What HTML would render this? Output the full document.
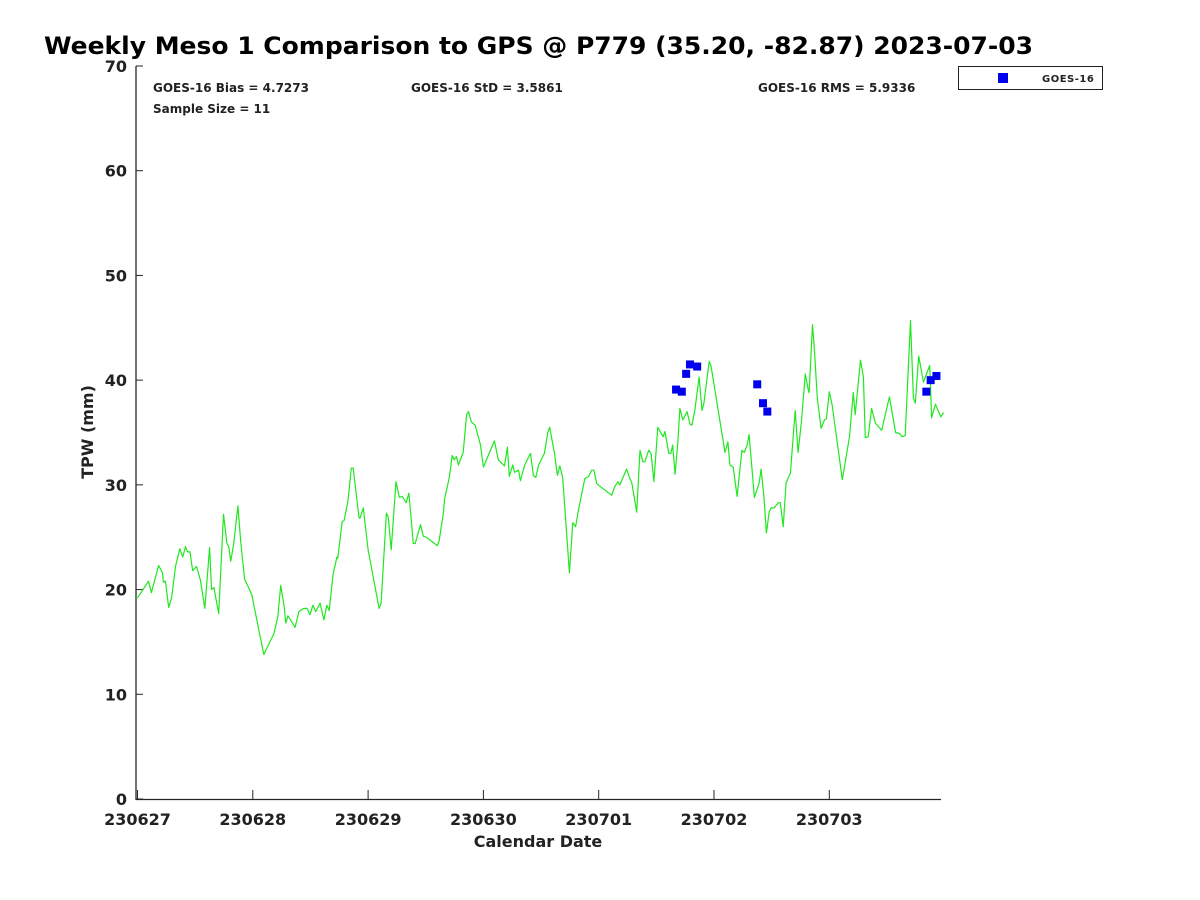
<!DOCTYPE html>
<html><head><meta charset="utf-8"><style>
html,body{margin:0;padding:0;background:#fff;}
svg{display:block;font-family:"DejaVu Sans","Liberation Sans",sans-serif;}
</style></head><body>
<svg id="chart" width="1200" height="900" viewBox="0 0 1200 900">
<rect width="1200" height="900" fill="#fff"/>
<text x="44" y="54" font-size="24" font-weight="bold" fill="#000" textLength="989" lengthAdjust="spacingAndGlyphs">Weekly Meso 1 Comparison to GPS @ P779 (35.20, -82.87) 2023-07-03</text>
<g id="axes"></g>
<g id="marks"></g>
<text x="153" y="92" font-size="12" font-weight="bold" fill="#222">GOES-16 Bias = 4.7273</text>
<text x="411" y="92" font-size="12" font-weight="bold" fill="#222">GOES-16 StD = 3.5861</text>
<text x="758" y="92" font-size="12" font-weight="bold" fill="#222">GOES-16 RMS = 5.9336</text>
<text x="153" y="113" font-size="12" font-weight="bold" fill="#222">Sample Size = 11</text>
<g>
<rect x="958.5" y="66.5" width="144" height="23" fill="#fff" stroke="#222" stroke-width="1"/>
<rect x="998" y="73" width="10" height="10" fill="#0000ee"/>
<text x="1042" y="82" font-size="10" font-weight="bold" fill="#222" letter-spacing="0.5">GOES-16</text>
</g>
<text x="538" y="847" font-size="16" font-weight="bold" fill="#222" text-anchor="middle">Calendar Date</text>
<text transform="translate(93,432) rotate(-90)" font-size="16" font-weight="bold" fill="#222" text-anchor="middle">TPW (mm)</text>
</svg>
<script>
const gpsHours = [0,2.3,2.9,4.4,5.2,5.4,5.8,6.5,7.1,7.9,8.8,9.4,10.0,10.4,10.9,11.5,12.3,13.1,14.0,15.0,15.4,15.9,16.9,17.9,18.6,19.0,19.4,20.0,20.9,21.5,22.3,23.0,23.8,26.3,28.4,29.2,29.8,30.5,30.9,31.3,32.8,33.6,34.6,35.3,35.9,36.5,37.1,38.0,38.8,39.4,39.9,40.7,41.5,41.7,42.6,43.0,43.8,44.5,44.9,46.1,46.3,47.0,48.0,50.3,50.7,51.8,52.2,52.8,53.8,54.5,55.1,55.9,56.5,57.4,57.8,58.9,59.5,60.1,62.4,62.8,63.7,63.9,64.9,65.5,65.9,66.4,66.8,67.8,68.5,68.9,69.5,70.3,71.4,72.0,74.3,75.1,76.4,77.0,77.4,78.1,78.5,79.3,79.7,80.6,81.8,82.4,82.9,83.5,84.7,85.4,85.8,86.8,87.4,87.9,88.5,89.9,90.6,91.2,91.8,93.1,93.9,94.5,95.0,95.6,98.7,99.3,100.0,100.4,101.8,102.5,102.9,103.9,104.6,105.2,105.6,106.4,106.9,107.5,108.3,109.4,109.8,110.6,111.0,111.4,111.9,112.5,112.9,113.5,114.4,115.0,115.4,116.0,116.9,117.5,117.9,119.0,119.4,122.3,122.9,123.3,124.0,124.8,125.8,126.3,126.9,127.3,128.4,129.4,129.8,130.4,130.9,131.5,131.9,132.5,133.4,133.8,134.4,135.0,135.9,136.9,137.5,138.2,139.0,139.6,139.8,140.5,140.9,141.5,142.3,143.0,143.4,144.0,144.6,146.7,148.2,149.0,149.4,150.5,151.1,151.5,152.1,152.8,153.6,154.9,156.5,157.8,158.6,159.2,159.8,160.9,161.5,161.9,162.6,163.6,164.0,164.9,165.3,166.1,167.2,167.8];
const gpsTpw = [19.2,20.8,19.7,22.3,21.6,20.7,20.8,18.3,19.2,22.2,23.9,23.1,24.1,23.6,23.6,21.8,22.2,20.9,18.2,24.0,20.0,20.2,17.7,27.2,24.4,24.1,22.7,24.3,28.0,24.5,21.0,20.3,19.5,13.8,15.8,17.4,20.4,18.5,16.8,17.5,16.4,17.9,18.2,18.2,17.6,18.5,17.9,18.7,17.1,18.5,18.0,21.4,23.1,23.0,26.5,26.6,28.4,31.6,31.6,26.9,26.8,27.8,23.8,18.2,18.7,27.3,26.9,23.8,30.3,28.8,28.9,28.3,29.2,24.4,24.4,26.2,25.1,25.0,24.2,24.7,27.4,28.6,30.7,32.8,32.4,32.7,31.9,33.1,36.7,37.0,36.0,35.7,33.8,31.7,34.2,32.4,31.8,33.6,30.8,31.9,31.2,31.4,30.4,31.9,33.0,30.9,30.7,31.9,33.0,35.0,35.5,33.0,30.9,31.8,30.7,21.6,26.4,26.0,27.6,30.6,30.8,31.4,31.4,30.1,29.0,29.8,30.3,30.0,31.5,30.6,30.2,27.4,33.3,32.2,32.2,33.3,33.0,30.3,35.5,34.6,35.1,33.0,33.0,33.8,31.0,34.3,37.3,36.2,37.0,35.8,35.7,37.1,40.3,37.1,37.8,41.8,41.3,33.1,34.1,31.9,31.7,28.9,33.3,33.1,33.8,34.8,28.8,30.2,31.5,28.8,25.4,27.4,27.8,27.8,28.3,28.3,26.0,30.2,31.1,37.1,33.1,36.0,40.6,39.1,38.8,45.3,42.9,38.3,35.4,36.2,36.3,38.9,37.6,30.5,34.6,38.8,36.7,41.9,40.3,34.5,34.6,37.3,35.9,35.2,38.4,35.0,34.9,34.6,34.7,45.7,38.3,37.8,42.3,39.8,40.3,41.4,36.4,37.7,36.5,36.9];
const goesHours = [112.1,113.3,114.2,115.0,116.5,129.0,130.2,131.1,164.2,165.1,166.3];
const goesTpw = [39.1,38.9,40.6,41.5,41.3,39.6,37.8,37.0,38.9,40.0,40.4];
const yTicks = [0,10,20,30,40,50,60,70];
const xTickLabels = ["230627","230628","230629","230630","230701","230702","230703"];

const NS = "http://www.w3.org/2000/svg";
const X0 = 137.5, PX_PER_DAY = 115.3, Y0 = 799, PX_PER_UNIT = 733/70;
function xScale(h){ return X0 + h / 24 * PX_PER_DAY; }
function yScale(v){ return Y0 - v * PX_PER_UNIT; }
function mk(tag, attrs, parent){ const e = document.createElementNS(NS, tag); for (const k in attrs) e.setAttribute(k, attrs[k]); parent.appendChild(e); return e; }

const axes = document.getElementById("axes");
const marks = document.getElementById("marks");
const C = "#262626";

const yAxis = mk("line", {x1:136, y1:66, x2:136, y2:800, stroke:C, "stroke-width":1.3}, axes);


const xAxis = mk("line", {x1:135.5, y1:799.5, x2:941, y2:799.5, stroke:C, "stroke-width":1.3}, axes);



yTicks.forEach(function(v){
  const y = yScale(v);
  const t = mk("line", {x1:136, y1:y, x2:143, y2:y, stroke:C, "stroke-width":1}, axes);
  
  
  const lab = mk("text", {x:127, y:y+6, "font-size":16, "font-weight":"bold", fill:"#222", "text-anchor":"end"}, axes);
  lab.textContent = v;
  
  
});
xTickLabels.forEach(function(s, i){
  const x = xScale(i * 24);
  const t = mk("line", {x1:x, y1:799, x2:x, y2:790, stroke:C, "stroke-width":1}, axes);
  
  
  const lab = mk("text", {x:x, y:825, "font-size":16, "font-weight":"bold", fill:"#222", "text-anchor":"middle"}, axes);
  lab.textContent = s;
  
  
});

const pts = gpsHours.map(function(h, i){ return xScale(h).toFixed(1) + "," + yScale(gpsTpw[i]).toFixed(1); }).join(" ");
const line = mk("polyline", {points: pts, fill:"none", stroke:"#1fe81f", "stroke-width":1.2, "stroke-linejoin":"round"}, marks);



goesHours.forEach(function(h, i){
  const r = mk("rect", {x: xScale(h) - 4, y: yScale(goesTpw[i]) - 4, width: 8, height: 8, fill:"#0000ee"}, marks);
  
  
});
</script>
</body></html>
